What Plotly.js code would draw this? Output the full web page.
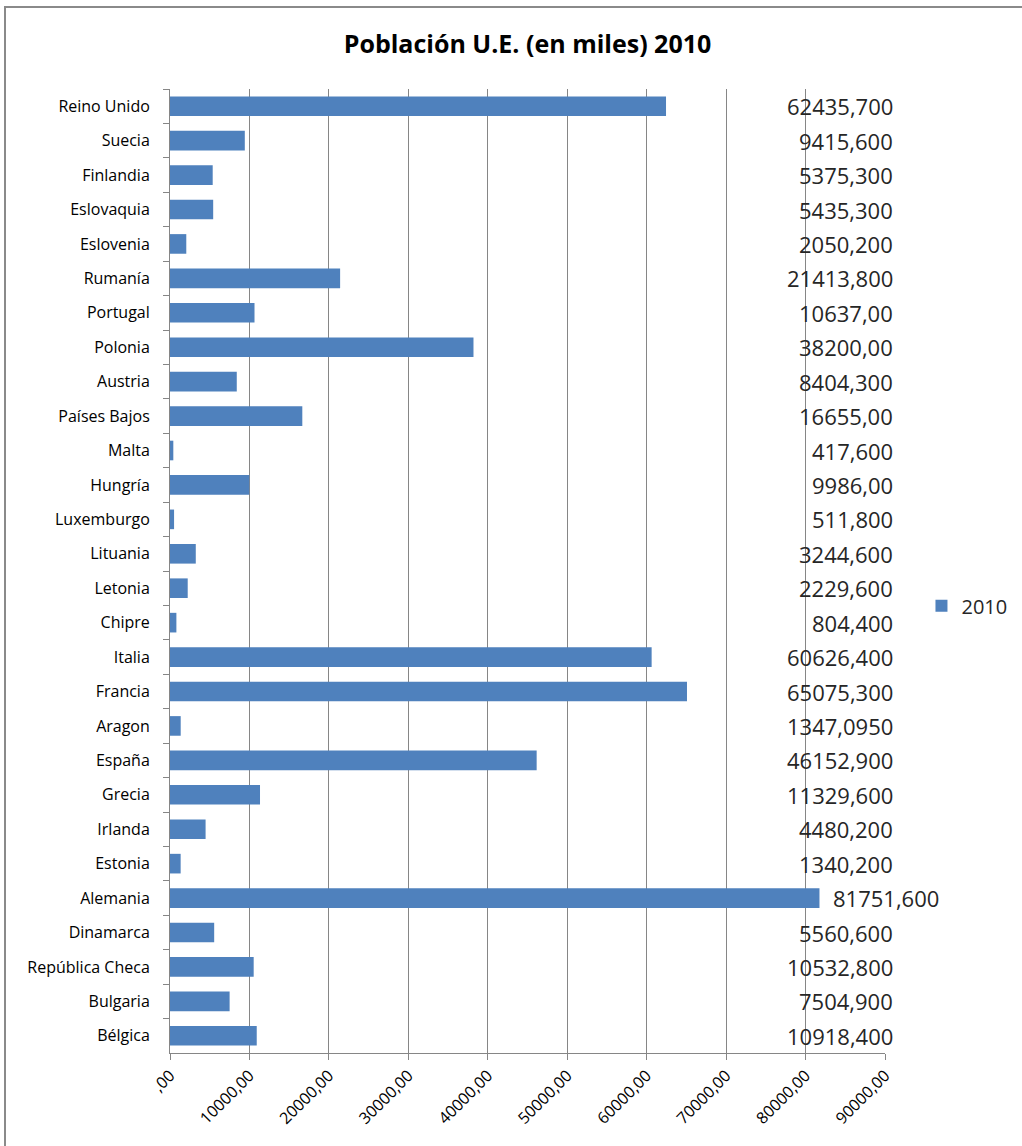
<!DOCTYPE html>
<html>
<head>
<meta charset="utf-8">
<script src="https://cdn.plot.ly/plotly-3.0.1.min.js"></script>
<style>
  html, body { margin: 0; padding: 0; background: #ffffff; overflow: hidden; width: 1022px; height: 1146px; }
  #frame { position: absolute; left: 4px; top: 6px; width: 1040px; height: 1160px; border: 2px solid #8a8a8a; box-sizing: border-box; }
  #chart { position: absolute; left: 0; top: 0; width: 1022px; height: 1146px; }
</style>
</head>
<body>
<div id="frame"></div>
<div id="chart"></div>
<script>
// Categories, top to bottom as in the reference
const countries = ["Reino Unido","Suecia","Finlandia","Eslovaquia","Eslovenia","Rumanía","Portugal","Polonia","Austria","Países Bajos","Malta","Hungría","Luxemburgo","Lituania","Letonia","Chipre","Italia","Francia","Aragon","España","Grecia","Irlanda","Estonia","Alemania","Dinamarca","República Checa","Bulgaria","Bélgica"];
// Population 2010 (thousands)
const population2010 = [62435.7,9415.6,5375.3,5435.3,2050.2,21413.8,10637.0,38200.0,8404.3,16655.0,417.6,9986.0,511.8,3244.6,2229.6,804.4,60626.4,65075.3,1347.095,46152.9,11329.6,4480.2,1340.2,81751.6,5560.6,10532.8,7504.9,10918.4];
// Data label texts as shown in the chart
const valueLabels = ["62435,700","9415,600","5375,300","5435,300","2050,200","21413,800","10637,00","38200,00","8404,300","16655,00","417,600","9986,00","511,800","3244,600","2229,600","804,400","60626,400","65075,300","1347,0950","46152,900","11329,600","4480,200","1340,200","81751,600","5560,600","10532,800","7504,900","10918,400"];
// X axis ticks
const xTickVals = [0,10000,20000,30000,40000,50000,60000,70000,80000,90000];
const xTickText = [",00","10000,00","20000,00","30000,00","40000,00","50000,00","60000,00","70000,00","80000,00","90000,00"];
const seriesName = "2010";
const chartTitle = "Población U.E. (en miles) 2010";

const FONT = "'Open Sans', 'Noto Sans', sans-serif";
const xMax = 90000;

const annotations = countries.map((c, i) => {
  const v = population2010[i];
  if (v > 0.85 * xMax) {
    return { x: v, y: c, xref: 'x', yref: 'y', text: valueLabels[i], showarrow: false,
             xanchor: 'left', xshift: 12, font: { family: FONT, size: 22, color: '#262626' } };
  }
  return { x: 1, y: c, xref: 'paper', yref: 'y', text: valueLabels[i], showarrow: false,
           xanchor: 'right', xshift: 10, font: { family: FONT, size: 22, color: '#262626' } };
});

const trace = {
  type: 'bar',
  orientation: 'h',
  name: seriesName,
  x: population2010,
  y: countries,
  marker: { color: '#4F81BD' },
  showlegend: true,
  cliponaxis: false
};

const layout = {
  width: 1022,
  height: 1146,
  paper_bgcolor: 'rgba(0,0,0,0)',
  plot_bgcolor: '#ffffff',
  margin: { l: 170, r: 137, t: 89, b: 93, autoexpand: false },
  title: { text: '<b>' + chartTitle + '</b>', font: { family: FONT, size: 25, color: '#000000' },
           x: 0.5, xanchor: 'center', y: 1 - 44/1146, yanchor: 'middle', xref: 'paper' },
  bargap: 0.43,
  showlegend: true,
  legend: { x: 1.051, y: 0.464, xanchor: 'left', yanchor: 'middle', font: { family: FONT, size: 20, color: '#262626' },
            bgcolor: 'rgba(0,0,0,0)', itemwidth: 30 },
  xaxis: {
    range: [0, xMax],
    tickvals: xTickVals,
    ticktext: xTickText,
    tickangle: -45,
    tickfont: { family: FONT, size: 16, color: '#000000' },
    showgrid: true,
    gridcolor: '#868686',
    gridwidth: 1,
    zeroline: false,
    showline: true,
    linecolor: '#868686',
    ticks: 'outside',
    ticklen: 6,
    tickcolor: '#868686',
    automargin: false,
    fixedrange: true
  },
  yaxis: {
    type: 'category',
    autorange: 'reversed',
    tickson: 'boundaries',
    ticks: 'outside',
    ticklen: 6,
    tickcolor: '#868686',
    showline: true,
    linecolor: '#868686',
    showgrid: false,
    zeroline: false,
    tickfont: { family: FONT, size: 16, color: '#000000' },
    ticklabelstandoff: 16,
    automargin: false,
    fixedrange: true
  },
  annotations: annotations
};

Plotly.newPlot('chart', [trace], layout, { displayModeBar: false, staticPlot: true });
</script>
</body>
</html>
